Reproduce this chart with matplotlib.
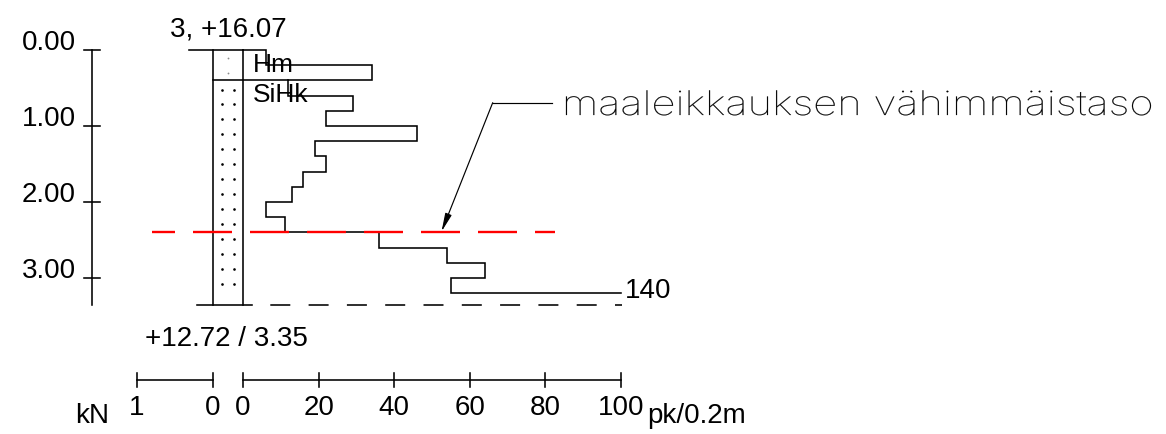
import matplotlib
matplotlib.use('Agg')
import matplotlib.pyplot as plt
from matplotlib import font_manager as fm
from matplotlib.textpath import TextPath
from matplotlib.patches import PathPatch
from matplotlib.transforms import Affine2D
import numpy as np

plt.rcParams['font.family'] = ['Liberation Sans', 'DejaVu Sans']
plt.rcParams['lines.scale_dashes'] = False

# ---------------- data ----------------
depth_ticks = [0.0, 1.0, 2.0, 3.0]
depth_labels = ['0.00', '1.00', '2.00', '3.00']
interval_top = [0.0, 0.2, 0.4, 0.6, 0.8, 1.0, 1.2, 1.4, 1.6, 1.8,
                2.0, 2.2, 2.4, 2.6, 2.8, 3.0, 3.2]
pk_values = [6, 34, 12, 29, 22, 46, 19, 22, 16, 13, 6, 11, 36, 54, 64, 55, 140]
layer_names = ['Hm', 'SiHk']
layer_tops = [0.0, 0.4]
final_depth = 3.35
point_label = '3, +16.07'
end_label = '+12.72 / 3.35'
min_level_depth = 2.4
pk_ticks = [0, 20, 40, 60, 80, 100]
pk_max = 100
kn_ticks = [1, 0]
annotation = 'maaleikkauksen vähimmäistaso'

# ---------------- layout ----------------
W, H = 1166, 434
PX0, PY0 = 243, 50      # pixel position of pk 0 / depth 0
SX, SY = 3.78, 76.0     # pixels per pk unit / per metre


def dx(px):
    return (px - PX0) / SX


def dy(py):
    return (py - PY0) / SY


KN0 = dx(213)            # x of kN = 0
KN_UNIT = 76 / SX        # width of 1 kN in pk units


def knx(k):
    return KN0 - k * KN_UNIT


fig = plt.figure(figsize=(W / 100, H / 100), dpi=100)
ax = fig.add_axes([0, 0, 1, 1])
ax.set_xlim(dx(0), dx(W))
ax.set_ylim(dy(H), dy(0))
ax.axis('off')

LW = 1.15
K = 'black'

# depth axis
AXX = dx(92)
ax.plot([AXX, AXX], [0, final_depth], color=K, lw=LW)
for d, lab in zip(depth_ticks, depth_labels):
    ax.plot([dx(84), dx(100)], [d, d], color=K, lw=LW)
    ax.text(dx(76), d, lab, ha='right', va='baseline', fontsize=20)

# borehole column
ax.plot([KN0, KN0], [0, final_depth], color=K, lw=LW)
ax.plot([0, 0], [0, final_depth], color=K, lw=LW)
ax.plot([dx(189), 0], [0, 0], color=K, lw=LW)
# layer boundaries (below the first one)
for i, top in enumerate(layer_tops[1:]):
    j = interval_top.index(top)
    ax.plot([KN0, pk_values[j]], [top, top], color=K, lw=LW)

# dots inside column
col_mid = KN0 / 2
hm_d = np.arange(layer_tops[0] + 0.11, layer_tops[1] - 0.05, 0.19)
ax.plot(np.full(len(hm_d), col_mid), hm_d, ls='none', marker='o', ms=1.3,
        color='0.55', mec='none')
si_d = np.arange(layer_tops[1] + 0.12, final_depth - 0.2, 0.197)
for xx in (dx(222.3), dx(234)):
    ax.plot(np.full(len(si_d), xx), si_d, ls='none', marker='o', ms=1.9,
            color=K, mec='none')

# layer names
name_base = [dy(72), dy(102)]
for nm, yb in zip(layer_names, name_base):
    ax.text(dx(253), yb, nm, ha='left', va='baseline', fontsize=19)

# pk/0.2m step profile
xs, ys = [0], [0]
for i, (t, v) in enumerate(zip(interval_top, pk_values)):
    vv = min(v, pk_max)
    xs.append(vv); ys.append(t)
    if v <= pk_max:
        bot = interval_top[i + 1] if i + 1 < len(interval_top) else final_depth
        xs.append(vv); ys.append(bot)
ax.plot(xs, ys, color=K, lw=LW, solid_joinstyle='miter')
ax.text(pk_max + 1.0, dy(298), str(pk_values[-1]), ha='left', va='baseline',
        fontsize=20)

# bottom line
ax.plot([dx(197), dx(252)], [final_depth, final_depth], color=K, lw=LW)
ax.plot([dx(252), dx(621.7)], [final_depth, final_depth], color=K, lw=LW,
        ls=(20 * 0.72, (20 * 0.72, 18.3 * 0.72)))

# red minimum level line
ax.plot([dx(152), dx(555)], [min_level_depth, min_level_depth], color='#ff0000',
        lw=1.7, ls=(16 * 0.72, (39 * 0.72, 18 * 0.72)), zorder=5)

# labels at top / bottom of hole
ax.text(col_mid, dy(36), point_label, ha='center', va='baseline', fontsize=20)
ax.text(dx(226), dy(346), end_label, ha='center', va='baseline', fontsize=20)

# bottom scales
SCY = dy(380)
ax.plot([knx(kn_ticks[0]), knx(kn_ticks[-1])], [SCY, SCY], color=K, lw=LW)
ax.plot([pk_ticks[0], pk_ticks[-1]], [SCY, SCY], color=K, lw=LW)
for k in kn_ticks:
    ax.plot([knx(k), knx(k)], [dy(373), dy(387)], color=K, lw=LW)
    ax.text(knx(k), dy(415), str(k), ha='center', va='baseline', fontsize=20)
for p in pk_ticks:
    ax.plot([p, p], [dy(373), dy(387)], color=K, lw=LW)
    ax.text(p, dy(415), str(p), ha='center', va='baseline', fontsize=20)
ax.text(dx(75), dy(423), 'kN', ha='left', va='baseline', fontsize=20)
ax.text(dx(647), dy(423), 'pk/0.2m', ha='left', va='baseline', fontsize=20)

# leader + arrow
corner = (dx(492.7), dy(102.7))
ax.plot([corner[0], dx(552)], [corner[1], corner[1]], color=K, lw=0.85)
ax.annotate('', xy=(dx(441.5), min_level_depth - 0.01), xytext=corner,
            arrowprops=dict(arrowstyle='-|>,head_length=1.1,head_width=0.2',
                            color=K, lw=0.85, shrinkA=0, shrinkB=0))


# thin annotation text
def pick_thin():
    order = ['Roboto', 'Lato', 'Inter', 'Open Sans', 'Noto Sans', 'DejaVu Sans']
    best = None
    for fi, fam in enumerate(order):
        for f in fm.fontManager.ttflist:
            if f.name != fam or f.style != 'normal':
                continue
            low = f.fname.lower()
            if 'condensed' in low or 'mono' in low or 'italic' in low:
                continue
            w = f.weight
            if not isinstance(w, (int, float)):
                w = fm.weight_dict.get(w, 400)
            key = (w, fi)
            if best is None or key < best[0]:
                best = (key, f.fname)
    return best[1] if best else None


fname = pick_thin()
fp = fm.FontProperties(fname=fname) if fname else fm.FontProperties()
tp = TextPath((0, 0), annotation, size=100, prop=fp)
bb = tp.get_extents()
xh = TextPath((0, 0), 'x', size=100, prop=fp).get_extents().height
kx = 585.0 / bb.width
ky = 18.5 / xh
fig.canvas.draw()
ax_x, ax_y = ax.transData.transform((dx(566), dy(115)))
tr = Affine2D().translate(-bb.x0, 0).scale(kx, ky).translate(ax_x, ax_y)
patch = PathPatch(tp, transform=tr, facecolor=K, edgecolor=K, lw=0.15,
                  clip_on=False)
fig.add_artist(patch)

fig.savefig('out.png', dpi=100)
